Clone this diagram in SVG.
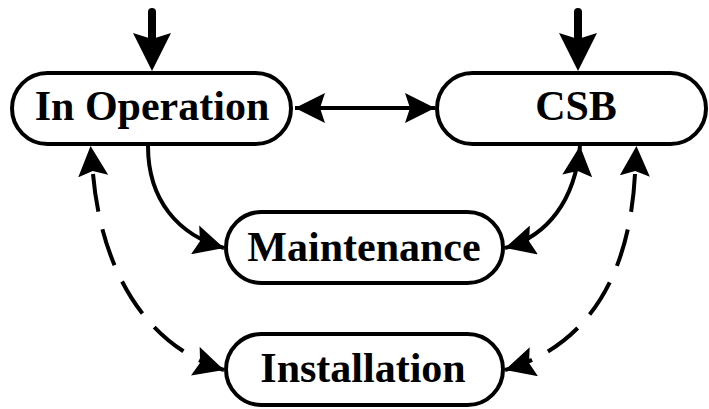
<svg xmlns="http://www.w3.org/2000/svg" width="709" height="409" viewBox="0 0 709 409">
<style>
.box{fill:#fff;stroke:#000;stroke-width:4}
.lbl{font-family:"Liberation Serif","Times New Roman",serif;font-weight:bold;font-size:42px;text-anchor:middle;fill:#000}
.c{fill:none;stroke:#000;stroke-width:4}
.d{stroke-dasharray:38 18}
.thick{fill:none;stroke:#000;stroke-width:8;stroke-linecap:round}
</style>
<defs>
<marker id="ah" viewBox="0 0 30 30" refX="30" refY="15" markerWidth="30" markerHeight="30" markerUnits="userSpaceOnUse" orient="auto-start-reverse">
<path d="M0,0 L30,15 L0,30 L5,15 z" fill="#000"/>
</marker>
<marker id="ahs" viewBox="0 0 30 30" refX="2" refY="15" markerWidth="30" markerHeight="30" markerUnits="userSpaceOnUse" orient="auto-start-reverse">
<path d="M0,0 L30,15 L0,30 L5,15 z" fill="#000"/>
</marker>
</defs>
<g id="connectors">
<path class="thick" d="M152,12 L152,40"/>
<path d="M133,33 L152,71 L171,33 L152,39 z" fill="#000"/>
<path class="thick" d="M578,12 L578,40"/>
<path d="M559,33 L578,71 L597,33 L578,39 z" fill="#000"/>
<path class="c" d="M295,108 L435,108" marker-start="url(#ah)" marker-end="url(#ah)"/>
<path class="c" d="M148,146 C148,200 178,235 224,248" marker-end="url(#ah)"/>
<path class="c" d="M580,146 C575,200 548,236 505,248" marker-start="url(#ah)" marker-end="url(#ah)"/>
<path class="c d" d="M93,174 C101,265 142,345 224,370" marker-start="url(#ahs)" marker-end="url(#ah)"/>
<path class="c d" d="M635,174 C630,270 592,345 505,370" marker-start="url(#ahs)" marker-end="url(#ah)"/>
</g>
<g id="in-operation">
<rect class="box" x="12" y="73" width="279" height="71" rx="35.5"/>
<text class="lbl" x="152" y="120">In Operation</text>
</g>
<g id="csb">
<rect class="box" x="437" y="73" width="269" height="71" rx="35.5"/>
<text class="lbl" x="576" y="120">CSB</text>
</g>
<g id="maintenance">
<rect class="box" x="226" y="212" width="277" height="71" rx="35.5"/>
<text class="lbl" x="364" y="261">Maintenance</text>
</g>
<g id="installation">
<rect class="box" x="226" y="334" width="277" height="71" rx="35.5"/>
<text class="lbl" x="363" y="382">Installation</text>
</g>
</svg>
